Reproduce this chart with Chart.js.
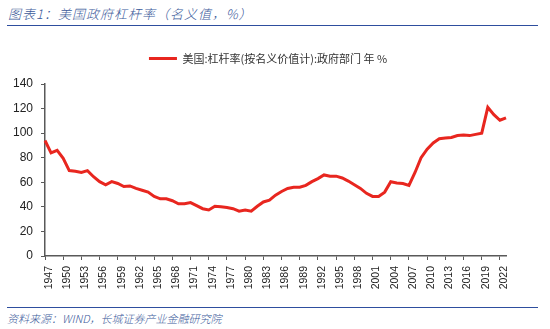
<!DOCTYPE html>
<html lang="zh">
<head>
    <meta charset="UTF-8">
    <title>美国政府杠杆率</title>
    <style>
        body {
            margin: 0;
            width: 550px;
            height: 329px;
            background: #fff;
            position: relative;
            overflow: hidden;
            font-family: "Liberation Sans", "Noto Sans CJK SC", sans-serif;
        }
        .title {
            position: absolute;
            left: 8px;
            top: 4px;
            font-family: "Noto Sans CJK SC", sans-serif;
            font-style: italic;
            font-weight: 300;
            font-size: 13px;
            color: #3b5a9a;
            letter-spacing: 1px;
        }
        .rule {
            position: absolute;
            left: 7px;
            width: 531px;
            height: 0;
            border-top: 1.5px solid #2e4e9e;
        }
        .source {
            position: absolute;
            left: 7px;
            top: 310px;
            font-family: "Noto Sans CJK SC", sans-serif;
            font-style: italic;
            font-weight: 300;
            font-size: 11px;
            color: #3b5a9a;
        }
        #wrap {
            position: absolute;
            left: 0;
            top: 44px;
            width: 550px;
            height: 258px;
        }
    </style>
    <script src="https://cdn.jsdelivr.net/npm/chart.js"></script>
</head>
<body>
    <div class="title">图表1：美国政府杠杆率（名义值，%）</div>
    <div class="rule" style="top:25px"></div>
    <div id="wrap"><canvas id="chart"></canvas></div>
    <div class="rule" style="top:307px"></div>
    <div class="source">资料来源：WIND，长城证券产业金融研究院</div>

    <script>
        const seriesName = '美国:杠杆率(按名义价值计):政府部门 年 %';

        const years = [];
        for (let y = 1947; y <= 2023; y++) years.push(String(y));

        // government debt / GDP, %
        const leverage = [
            94, 84, 86, 79.5, 69.5, 69, 68, 69.5, 64.5, 60.5,      // 1947-1956
            58, 60.5, 59, 56.5, 57, 55, 53.5, 52, 48.5, 46.5,      // 1957-1966
            46.5, 45, 42.5, 42.5, 43.5, 41, 38.5, 37.5, 40.5, 40,  // 1967-1976
            39.5, 38.5, 36.5, 37.5, 36.5, 40.5, 44, 45.5, 49.5, 52.5, // 1977-1986
            55, 56, 56, 57.5, 60.5, 63, 66, 65, 65, 63.5,          // 1987-1996
            61, 58, 55, 51, 48.5, 48.5, 52, 60.5, 59.5, 59,        // 1997-2006
            57.5, 68, 80, 87, 92, 95.5, 96, 96.5, 98, 98.5,        // 2007-2016
            98, 99, 100, 121, 115, 110.5, 112.5                    // 2017-2023
        ];

        const yTicks = [0, 20, 40, 60, 80, 100, 120, 140];
        const labelEvery = 3;

        const axisColor = '#595959';
        const lineColor = '#e8261f';

        // move the legend a bit right and up, where the original has it
        const legendNudge = {
            id: 'legendNudge',
            afterLayout(chart) {
                const lg = chart.legend;
                lg.left += 11; lg.right += 11;
                lg.top -= 10; lg.bottom -= 10;
            }
        };

        new Chart(document.getElementById('chart'), {
            type: 'line',
            data: {
                labels: years,
                datasets: [{
                    label: seriesName,
                    data: leverage,
                    borderColor: lineColor,
                    backgroundColor: lineColor,
                    borderWidth: 3,
                    pointRadius: 0,
                    tension: 0
                }]
            },
            plugins: [legendNudge],
            options: {
                responsive: true,
                maintainAspectRatio: false,
                animation: false,
                layout: { padding: { top: 0, right: 44, left: 8, bottom: 0 } },
                plugins: {
                    tooltip: { enabled: false },
                    legend: {
                        display: true,
                        position: 'top',
                        labels: {
                            boxWidth: 28,
                            boxHeight: 3,
                            padding: 19,
                            color: '#333',
                            font: { family: '"Noto Sans CJK SC", sans-serif', size: 11 },
                            generateLabels: chart =>
                                Chart.defaults.plugins.legend.labels.generateLabels(chart)
                                    .map(l => ({ ...l, lineWidth: 0 }))
                        }
                    }
                },
                scales: {
                    x: {
                        type: 'category',
                        offset: false,
                        afterFit: s => { s.height = 46; },
                        border: { color: axisColor, width: 1.5 },
                        grid: {
                            drawOnChartArea: false,
                            drawTicks: true,
                            tickLength: 4,
                            color: ctx => (ctx.index % labelEvery === 0 ? axisColor : 'rgba(0,0,0,0)')
                        },
                        ticks: {
                            autoSkip: false,
                            maxRotation: 90,
                            minRotation: 90,
                            padding: 6,
                            labelOffset: 4,
                            color: '#222',
                            font: { family: '"Liberation Sans", Arial, sans-serif', size: 10.5 },
                            callback: function (v, i) {
                                return i % labelEvery === 0 ? this.getLabelForValue(v) : '';
                            }
                        }
                    },
                    y: {
                        min: 0,
                        max: 140,
                        afterFit: s => { s.width = 37; },
                        afterBuildTicks: s => { s.ticks = yTicks.map(v => ({ value: v })); },
                        border: { color: axisColor, width: 1.5 },
                        grid: {
                            drawOnChartArea: false,
                            drawTicks: true,
                            tickLength: 4,
                            color: axisColor
                        },
                        ticks: {
                            padding: 8,
                            color: '#222',
                            font: { family: '"Liberation Sans", Arial, sans-serif', size: 12 }
                        }
                    }
                }
            }
        });
    </script>
</body>
</html>
